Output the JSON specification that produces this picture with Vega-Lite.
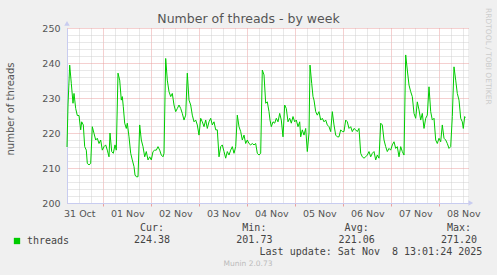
{
  "$schema": "https://vega.github.io/schema/vega-lite/v6.json",
  "width": 401,
  "height": 175,
  "autosize": {"type": "none"},
  "padding": {"left": 67, "top": 28, "right": 29, "bottom": 72},
  "background": "#f0f0f0",
  "config": {"view": {"fill": "white", "stroke": null}, "font": "DejaVu Sans"},
  "title": {"text": "Number of threads - by week", "font": "DejaVu Sans", "fontSize": 12.5, "fontWeight": "normal", "color": "#555555", "anchor": "middle", "frame": "group", "dx": -19, "dy": 19, "offset": 2},
  "datasets": {
    "threads": [
      {"t": "2025-10-31T05:51:00Z", "v": 216}, {"t": "2025-10-31T06:21:00Z", "v": 228}, {"t": "2025-10-31T07:12:00Z", "v": 239.4}, {"t": "2025-10-31T08:00:00Z", "v": 234.2},
      {"t": "2025-10-31T08:51:00Z", "v": 228.5}, {"t": "2025-10-31T09:21:00Z", "v": 231.3}, {"t": "2025-10-31T10:12:00Z", "v": 227}, {"t": "2025-10-31T11:00:00Z", "v": 225},
      {"t": "2025-10-31T11:51:00Z", "v": 225}, {"t": "2025-10-31T12:42:00Z", "v": 220.9}, {"t": "2025-10-31T13:12:00Z", "v": 223.2}, {"t": "2025-10-31T14:00:00Z", "v": 222.3},
      {"t": "2025-10-31T14:42:00Z", "v": 216.1}, {"t": "2025-10-31T15:30:00Z", "v": 215.1}, {"t": "2025-10-31T16:00:00Z", "v": 211.3}, {"t": "2025-10-31T16:51:00Z", "v": 210.9},
      {"t": "2025-10-31T17:42:00Z", "v": 211.3}, {"t": "2025-10-31T18:30:00Z", "v": 221.8}, {"t": "2025-10-31T19:21:00Z", "v": 219.9}, {"t": "2025-10-31T20:12:00Z", "v": 218},
      {"t": "2025-10-31T21:00:00Z", "v": 218.5}, {"t": "2025-10-31T21:51:00Z", "v": 217}, {"t": "2025-10-31T22:42:00Z", "v": 218}, {"t": "2025-10-31T23:30:00Z", "v": 215.1},
      {"t": "2025-11-01T00:21:00Z", "v": 216.1}, {"t": "2025-11-01T01:12:00Z", "v": 216.6}, {"t": "2025-11-01T02:00:00Z", "v": 215.1}, {"t": "2025-11-01T02:51:00Z", "v": 213.2},
      {"t": "2025-11-01T03:21:00Z", "v": 220}, {"t": "2025-11-01T04:12:00Z", "v": 214.7}, {"t": "2025-11-01T05:00:00Z", "v": 214.2}, {"t": "2025-11-01T05:51:00Z", "v": 216.6},
      {"t": "2025-11-01T06:30:00Z", "v": 215.1}, {"t": "2025-11-01T07:21:00Z", "v": 237.1}, {"t": "2025-11-01T08:12:00Z", "v": 235.1}, {"t": "2025-11-01T09:00:00Z", "v": 229.4},
      {"t": "2025-11-01T09:30:00Z", "v": 230.4}, {"t": "2025-11-01T10:00:00Z", "v": 227.5}, {"t": "2025-11-01T10:42:00Z", "v": 222.8}, {"t": "2025-11-01T11:30:00Z", "v": 221.3},
      {"t": "2025-11-01T12:00:00Z", "v": 222.8}, {"t": "2025-11-01T12:51:00Z", "v": 218.9}, {"t": "2025-11-01T13:42:00Z", "v": 214.2}, {"t": "2025-11-01T14:30:00Z", "v": 212.3},
      {"t": "2025-11-01T15:21:00Z", "v": 210.4}, {"t": "2025-11-01T15:51:00Z", "v": 208}, {"t": "2025-11-01T16:30:00Z", "v": 207.5}, {"t": "2025-11-01T17:21:00Z", "v": 207.5},
      {"t": "2025-11-01T18:12:00Z", "v": 222.3}, {"t": "2025-11-01T19:00:00Z", "v": 218}, {"t": "2025-11-01T19:51:00Z", "v": 216.1}, {"t": "2025-11-01T20:42:00Z", "v": 213.2},
      {"t": "2025-11-01T21:30:00Z", "v": 214.7}, {"t": "2025-11-01T22:21:00Z", "v": 212.3}, {"t": "2025-11-01T23:12:00Z", "v": 213.2},
      {"t": "2025-11-02T00:00:00Z", "v": 212.3}, {"t": "2025-11-02T00:51:00Z", "v": 214.7}, {"t": "2025-11-02T01:42:00Z", "v": 215.1}, {"t": "2025-11-02T02:30:00Z", "v": 215.1},
      {"t": "2025-11-02T03:21:00Z", "v": 216.1}, {"t": "2025-11-02T04:12:00Z", "v": 215.1}, {"t": "2025-11-02T05:00:00Z", "v": 213.7}, {"t": "2025-11-02T05:51:00Z", "v": 213.2},
      {"t": "2025-11-02T06:21:00Z", "v": 214.2}, {"t": "2025-11-02T07:12:00Z", "v": 241.3}, {"t": "2025-11-02T08:00:00Z", "v": 235.1}, {"t": "2025-11-02T08:51:00Z", "v": 231.8},
      {"t": "2025-11-02T09:42:00Z", "v": 230.4}, {"t": "2025-11-02T10:30:00Z", "v": 231.3}, {"t": "2025-11-02T11:21:00Z", "v": 228}, {"t": "2025-11-02T12:12:00Z", "v": 226.1},
      {"t": "2025-11-02T13:00:00Z", "v": 227}, {"t": "2025-11-02T13:51:00Z", "v": 228}, {"t": "2025-11-02T14:42:00Z", "v": 227}, {"t": "2025-11-02T15:30:00Z", "v": 225.6},
      {"t": "2025-11-02T16:21:00Z", "v": 223.7}, {"t": "2025-11-02T17:12:00Z", "v": 225.1}, {"t": "2025-11-02T18:00:00Z", "v": 237.1}, {"t": "2025-11-02T18:51:00Z", "v": 229.4},
      {"t": "2025-11-02T19:42:00Z", "v": 228}, {"t": "2025-11-02T20:30:00Z", "v": 225.1}, {"t": "2025-11-02T21:21:00Z", "v": 223.2}, {"t": "2025-11-02T22:12:00Z", "v": 223.7},
      {"t": "2025-11-02T23:00:00Z", "v": 222.3}, {"t": "2025-11-02T23:51:00Z", "v": 219.4},
      {"t": "2025-11-03T00:42:00Z", "v": 224.2}, {"t": "2025-11-03T01:30:00Z", "v": 223.2}, {"t": "2025-11-03T02:21:00Z", "v": 221.8}, {"t": "2025-11-03T03:12:00Z", "v": 223.7},
      {"t": "2025-11-03T04:00:00Z", "v": 221.3}, {"t": "2025-11-03T04:51:00Z", "v": 223.2}, {"t": "2025-11-03T05:42:00Z", "v": 224.2}, {"t": "2025-11-03T06:30:00Z", "v": 222.3},
      {"t": "2025-11-03T07:21:00Z", "v": 223.2}, {"t": "2025-11-03T08:12:00Z", "v": 220.9}, {"t": "2025-11-03T09:00:00Z", "v": 220.9}, {"t": "2025-11-03T09:51:00Z", "v": 213.2},
      {"t": "2025-11-03T10:42:00Z", "v": 216.1}, {"t": "2025-11-03T11:30:00Z", "v": 216.6}, {"t": "2025-11-03T12:21:00Z", "v": 214.7}, {"t": "2025-11-03T13:12:00Z", "v": 212.8},
      {"t": "2025-11-03T14:00:00Z", "v": 214.7}, {"t": "2025-11-03T14:51:00Z", "v": 213.7}, {"t": "2025-11-03T15:42:00Z", "v": 215.1}, {"t": "2025-11-03T16:30:00Z", "v": 216.1},
      {"t": "2025-11-03T17:21:00Z", "v": 214.2}, {"t": "2025-11-03T18:12:00Z", "v": 216.1}, {"t": "2025-11-03T19:00:00Z", "v": 225.1}, {"t": "2025-11-03T19:51:00Z", "v": 221.8},
      {"t": "2025-11-03T20:42:00Z", "v": 220.4}, {"t": "2025-11-03T21:30:00Z", "v": 218}, {"t": "2025-11-03T22:21:00Z", "v": 219.4}, {"t": "2025-11-03T23:12:00Z", "v": 217},
      {"t": "2025-11-04T00:00:00Z", "v": 218}, {"t": "2025-11-04T00:51:00Z", "v": 217}, {"t": "2025-11-04T01:42:00Z", "v": 216.6}, {"t": "2025-11-04T02:30:00Z", "v": 217},
      {"t": "2025-11-04T03:21:00Z", "v": 216.6}, {"t": "2025-11-04T04:12:00Z", "v": 217}, {"t": "2025-11-04T05:00:00Z", "v": 214.2}, {"t": "2025-11-04T05:51:00Z", "v": 213.7},
      {"t": "2025-11-04T06:42:00Z", "v": 214.2}, {"t": "2025-11-04T07:30:00Z", "v": 238}, {"t": "2025-11-04T08:21:00Z", "v": 236.6}, {"t": "2025-11-04T09:12:00Z", "v": 228.5},
      {"t": "2025-11-04T10:00:00Z", "v": 228.9}, {"t": "2025-11-04T10:51:00Z", "v": 226.1}, {"t": "2025-11-04T11:21:00Z", "v": 223.7}, {"t": "2025-11-04T12:00:00Z", "v": 221.8},
      {"t": "2025-11-04T12:51:00Z", "v": 223.2}, {"t": "2025-11-04T13:42:00Z", "v": 222.8}, {"t": "2025-11-04T14:30:00Z", "v": 224.2}, {"t": "2025-11-04T15:21:00Z", "v": 223.2},
      {"t": "2025-11-04T16:12:00Z", "v": 225.6}, {"t": "2025-11-04T17:00:00Z", "v": 223.7}, {"t": "2025-11-04T17:51:00Z", "v": 218.9}, {"t": "2025-11-04T18:42:00Z", "v": 228},
      {"t": "2025-11-04T19:30:00Z", "v": 227}, {"t": "2025-11-04T20:21:00Z", "v": 223.2}, {"t": "2025-11-04T21:12:00Z", "v": 224.2}, {"t": "2025-11-04T22:00:00Z", "v": 222.8},
      {"t": "2025-11-04T22:51:00Z", "v": 224.7}, {"t": "2025-11-04T23:42:00Z", "v": 223.2},
      {"t": "2025-11-05T00:30:00Z", "v": 223.7}, {"t": "2025-11-05T01:21:00Z", "v": 221.8}, {"t": "2025-11-05T02:12:00Z", "v": 223.2}, {"t": "2025-11-05T02:42:00Z", "v": 218.9},
      {"t": "2025-11-05T03:30:00Z", "v": 220.9}, {"t": "2025-11-05T04:21:00Z", "v": 219.4}, {"t": "2025-11-05T05:12:00Z", "v": 221.3}, {"t": "2025-11-05T06:00:00Z", "v": 214.7},
      {"t": "2025-11-05T06:51:00Z", "v": 220}, {"t": "2025-11-05T07:21:00Z", "v": 239.4}, {"t": "2025-11-05T08:12:00Z", "v": 234.2}, {"t": "2025-11-05T08:51:00Z", "v": 230.4},
      {"t": "2025-11-05T09:21:00Z", "v": 229.4}, {"t": "2025-11-05T10:12:00Z", "v": 226.1}, {"t": "2025-11-05T11:00:00Z", "v": 225.1}, {"t": "2025-11-05T11:51:00Z", "v": 226.1},
      {"t": "2025-11-05T12:42:00Z", "v": 223.7}, {"t": "2025-11-05T13:30:00Z", "v": 224.2}, {"t": "2025-11-05T14:21:00Z", "v": 223.2}, {"t": "2025-11-05T15:12:00Z", "v": 223.7},
      {"t": "2025-11-05T16:00:00Z", "v": 222.3}, {"t": "2025-11-05T16:51:00Z", "v": 221.8}, {"t": "2025-11-05T17:42:00Z", "v": 220.4}, {"t": "2025-11-05T18:30:00Z", "v": 226.1},
      {"t": "2025-11-05T19:21:00Z", "v": 222.3}, {"t": "2025-11-05T20:12:00Z", "v": 219.4}, {"t": "2025-11-05T21:00:00Z", "v": 218.9}, {"t": "2025-11-05T21:51:00Z", "v": 218.9},
      {"t": "2025-11-05T22:42:00Z", "v": 220.9}, {"t": "2025-11-05T23:30:00Z", "v": 220.4},
      {"t": "2025-11-06T00:21:00Z", "v": 220.4}, {"t": "2025-11-06T01:12:00Z", "v": 223.7}, {"t": "2025-11-06T02:00:00Z", "v": 223.2}, {"t": "2025-11-06T02:51:00Z", "v": 221.3},
      {"t": "2025-11-06T03:42:00Z", "v": 221.8}, {"t": "2025-11-06T04:30:00Z", "v": 220.4}, {"t": "2025-11-06T05:21:00Z", "v": 221.3}, {"t": "2025-11-06T06:12:00Z", "v": 220.9},
      {"t": "2025-11-06T07:00:00Z", "v": 220.4}, {"t": "2025-11-06T07:51:00Z", "v": 221.3}, {"t": "2025-11-06T08:42:00Z", "v": 214.2}, {"t": "2025-11-06T09:30:00Z", "v": 213.2},
      {"t": "2025-11-06T10:21:00Z", "v": 212.8}, {"t": "2025-11-06T11:12:00Z", "v": 213.2}, {"t": "2025-11-06T12:00:00Z", "v": 213.7}, {"t": "2025-11-06T12:51:00Z", "v": 214.7},
      {"t": "2025-11-06T13:42:00Z", "v": 213.2}, {"t": "2025-11-06T14:30:00Z", "v": 214.2}, {"t": "2025-11-06T15:21:00Z", "v": 214.7}, {"t": "2025-11-06T16:12:00Z", "v": 212.3},
      {"t": "2025-11-06T17:00:00Z", "v": 213.7}, {"t": "2025-11-06T17:51:00Z", "v": 212.8}, {"t": "2025-11-06T18:42:00Z", "v": 222.8}, {"t": "2025-11-06T19:30:00Z", "v": 222.3},
      {"t": "2025-11-06T20:21:00Z", "v": 218}, {"t": "2025-11-06T21:12:00Z", "v": 216.1}, {"t": "2025-11-06T22:00:00Z", "v": 214.7}, {"t": "2025-11-06T22:51:00Z", "v": 215.6},
      {"t": "2025-11-06T23:42:00Z", "v": 215.1},
      {"t": "2025-11-07T00:30:00Z", "v": 216.6}, {"t": "2025-11-07T01:21:00Z", "v": 217.5}, {"t": "2025-11-07T02:12:00Z", "v": 215.6}, {"t": "2025-11-07T03:00:00Z", "v": 216.1},
      {"t": "2025-11-07T03:51:00Z", "v": 213.2}, {"t": "2025-11-07T04:42:00Z", "v": 216.1}, {"t": "2025-11-07T05:30:00Z", "v": 214.7}, {"t": "2025-11-07T06:21:00Z", "v": 213.7},
      {"t": "2025-11-07T07:12:00Z", "v": 242.3}, {"t": "2025-11-07T08:00:00Z", "v": 238}, {"t": "2025-11-07T08:51:00Z", "v": 233.7}, {"t": "2025-11-07T09:42:00Z", "v": 231.8},
      {"t": "2025-11-07T10:30:00Z", "v": 230.4}, {"t": "2025-11-07T11:21:00Z", "v": 225.6}, {"t": "2025-11-07T12:12:00Z", "v": 224.2}, {"t": "2025-11-07T13:00:00Z", "v": 228.9},
      {"t": "2025-11-07T13:51:00Z", "v": 226.6}, {"t": "2025-11-07T14:42:00Z", "v": 223.7}, {"t": "2025-11-07T15:30:00Z", "v": 225.6}, {"t": "2025-11-07T16:21:00Z", "v": 221.3},
      {"t": "2025-11-07T17:12:00Z", "v": 224.2}, {"t": "2025-11-07T18:00:00Z", "v": 225.1}, {"t": "2025-11-07T18:51:00Z", "v": 233.2}, {"t": "2025-11-07T19:42:00Z", "v": 226.1},
      {"t": "2025-11-07T20:30:00Z", "v": 223.7}, {"t": "2025-11-07T21:21:00Z", "v": 224.2}, {"t": "2025-11-07T22:12:00Z", "v": 218}, {"t": "2025-11-07T23:00:00Z", "v": 217},
      {"t": "2025-11-07T23:51:00Z", "v": 218.5},
      {"t": "2025-11-08T00:42:00Z", "v": 217.5}, {"t": "2025-11-08T01:30:00Z", "v": 222.3}, {"t": "2025-11-08T02:21:00Z", "v": 218.5}, {"t": "2025-11-08T03:12:00Z", "v": 218},
      {"t": "2025-11-08T04:00:00Z", "v": 217}, {"t": "2025-11-08T04:51:00Z", "v": 215.6}, {"t": "2025-11-08T05:42:00Z", "v": 216.1}, {"t": "2025-11-08T06:30:00Z", "v": 224.7},
      {"t": "2025-11-08T07:21:00Z", "v": 238.9}, {"t": "2025-11-08T08:12:00Z", "v": 235.1}, {"t": "2025-11-08T09:00:00Z", "v": 231.3}, {"t": "2025-11-08T09:51:00Z", "v": 229.4},
      {"t": "2025-11-08T10:42:00Z", "v": 224.2}, {"t": "2025-11-08T11:30:00Z", "v": 223.2}, {"t": "2025-11-08T12:00:00Z", "v": 221.3}, {"t": "2025-11-08T12:42:00Z", "v": 224.7},
      {"t": "2025-11-08T13:00:00Z", "v": 224.4}
    ],
    "stats": [
      {"name": "Cur:", "value": 224.38},
      {"name": "Min:", "value": 201.73},
      {"name": "Avg:", "value": 221.06},
      {"name": "Max:", "value": 271.20}
    ],
    "notes": [
      {"kind": "update", "label": "Last update: Sat Nov \u00a08 13:01:24 2025"},
      {"kind": "munin", "label": "Munin 2.0.73"},
      {"kind": "rrd", "label": "RRDTOOL / TOBI OETIKER"}
    ]
  },
  "layer": [
    {
      "data": {"name": "threads"},
      "mark": {"type": "line", "color": "#00cc00", "strokeWidth": 1},
      "encoding": {
        "x": {
          "field": "t", "type": "temporal",
          "scale": {"type": "utc", "domain": [1761889860000, 1762611660000]},
          "axis": {
            "title": null,
            "tickCount": 36,
            "labelExpr": "utchours(datum.value) == 12 ? utcFormat(datum.value, '%d %b') : ''",
            "labelOverlap": false, "labelFlush": false, "labelBound": false,
            "labelFont": "DejaVu Sans", "labelFontSize": 9.5, "labelColor": "#555555", "labelPadding": 2,
            "grid": true, "gridDash": [1, 1], "gridOpacity": 1,
            "gridColor": {"condition": {"test": "utchours(datum.value) == 0", "value": "#eaa0a0"}, "value": "#d0d0d0"},
            "ticks": true, "tickSize": 3,
            "tickColor": {"condition": {"test": "utchours(datum.value) == 0", "value": "#eaa0a0"}, "value": "#ffffff00"},
            "domainColor": "#c8ccf0", "domainWidth": 1
          }
        },
        "y": {
          "field": "v", "type": "quantitative",
          "scale": {"domain": [200, 250], "nice": false, "zero": false},
          "axis": {
            "title": "number of threads", "titleFont": "DejaVu Sans", "titleFontSize": 10, "titleFontWeight": "normal", "titleColor": "#555555", "titlePadding": 26, "titleY": 80.5,
            "values": [200, 202, 204, 206, 208, 210, 212, 214, 216, 218, 220, 222, 224, 226, 228, 230, 232, 234, 236, 238, 240, 242, 244, 246, 248, 250],
            "labelExpr": "datum.value % 10 == 0 ? datum.label : ''",
            "labelOverlap": false, "labelBound": false, "labelFlush": false,
            "labelFont": "DejaVu Sans", "labelFontSize": 9.5, "labelColor": "#555555", "labelPadding": 7,
            "ticks": false,
            "grid": true, "gridDash": [1, 1], "gridOpacity": 1,
            "gridColor": {"condition": {"test": "datum.value % 10 == 0", "value": "#eaa0a0"}, "value": "#d0d0d0"},
            "domainColor": "#c8ccf0", "domainWidth": 1
          }
        },
        "color": {
          "datum": "threads",
          "scale": {"range": ["#00cc00"]},
          "legend": {
            "title": null, "orient": "none", "legendX": -55, "legendY": 208,
            "symbolType": "square", "symbolSize": 40, "symbolFillColor": "#00cc00", "symbolStrokeWidth": 0,
            "labelFont": "DejaVu Sans Mono", "labelFontSize": 10, "labelColor": "#444444", "labelOffset": 5
          }
        }
      }
    },
    {
      "layer": [
        {
          "data": {"values": [{"axis": "y"}]},
          "mark": {"type": "point", "shape": "triangle-up", "filled": true, "color": "#c8ccf0", "size": 30, "opacity": 1},
          "encoding": {
            "x": {"datum": 1761889860000, "type": "temporal", "scale": {"type": "utc", "domain": [1761889860000, 1762611660000]}, "axis": null},
            "y": {"datum": 251.3, "type": "quantitative", "scale": {"domain": [200, 250], "nice": false, "zero": false}, "axis": null}
          }
        },
        {
          "data": {"values": [{"axis": "x"}]},
          "mark": {"type": "point", "shape": "triangle-right", "filled": true, "color": "#c8ccf0", "size": 30, "opacity": 1},
          "encoding": {
            "x": {"datum": 1762616700000, "type": "temporal", "scale": {"type": "utc", "domain": [1761889860000, 1762611660000]}, "axis": null},
            "y": {"datum": 200, "type": "quantitative", "scale": {"domain": [200, 250], "nice": false, "zero": false}, "axis": null}
          }
        },
        {
          "data": {"name": "notes"},
          "transform": [{"filter": "datum.kind == 'update'"}],
          "mark": {"type": "text", "font": "DejaVu Sans Mono", "fontSize": 10, "color": "#444444", "align": "right", "baseline": "middle"},
          "encoding": {
            "x": {"datum": 1762637400000, "type": "temporal", "scale": {"type": "utc", "domain": [1761889860000, 1762611660000]}, "axis": null},
            "y": {"datum": 186.1, "type": "quantitative", "scale": {"domain": [200, 250], "nice": false, "zero": false}, "axis": null},
            "text": {"field": "label"}
          }
        },
        {
          "data": {"name": "notes"},
          "transform": [{"filter": "datum.kind == 'munin'"}],
          "mark": {"type": "text", "font": "DejaVu Sans", "fontSize": 7.5, "color": "#bbbbbb", "align": "center", "baseline": "middle"},
          "encoding": {
            "x": {"datum": 1762215660000, "type": "temporal", "scale": {"type": "utc", "domain": [1761889860000, 1762611660000]}, "axis": null},
            "y": {"datum": 182.6, "type": "quantitative", "scale": {"domain": [200, 250], "nice": false, "zero": false}, "axis": null},
            "text": {"field": "label"}
          }
        },
        {
          "data": {"name": "notes"},
          "transform": [{"filter": "datum.kind == 'rrd'"}],
          "mark": {"type": "text", "font": "DejaVu Sans", "fontSize": 7.5, "color": "#cccccc", "align": "left", "baseline": "middle", "angle": 90},
          "encoding": {
            "x": {"datum": 1762647660000, "type": "temporal", "scale": {"type": "utc", "domain": [1761889860000, 1762611660000]}, "axis": null},
            "y": {"datum": 255.7, "type": "quantitative", "scale": {"domain": [200, 250], "nice": false, "zero": false}, "axis": null},
            "text": {"field": "label"}
          }
        }
      ]
    },
    {
      "data": {"name": "stats"},
      "encoding": {
        "x": {"field": "name", "type": "nominal", "sort": null, "scale": {"type": "point", "domain": ["Cur:", "Min:", "Avg:", "Max:"], "padding": 0.46, "align": 0.904}, "axis": null}
      },
      "layer": [
        {
          "mark": {"type": "text", "font": "DejaVu Sans Mono", "fontSize": 10, "color": "#444444", "align": "center", "baseline": "middle"},
          "encoding": {"y": {"datum": 192.86, "type": "quantitative", "scale": {"domain": [200, 250], "nice": false, "zero": false}, "axis": null}, "text": {"field": "name"}}
        },
        {
          "mark": {"type": "text", "font": "DejaVu Sans Mono", "fontSize": 10, "color": "#444444", "align": "center", "baseline": "middle"},
          "encoding": {"y": {"datum": 189.43, "type": "quantitative", "scale": {"domain": [200, 250], "nice": false, "zero": false}, "axis": null}, "text": {"field": "value", "format": ".2f"}}
        }
      ]
    }
  ],
  "resolve": {"scale": {"x": "independent", "y": "independent"}}
}
